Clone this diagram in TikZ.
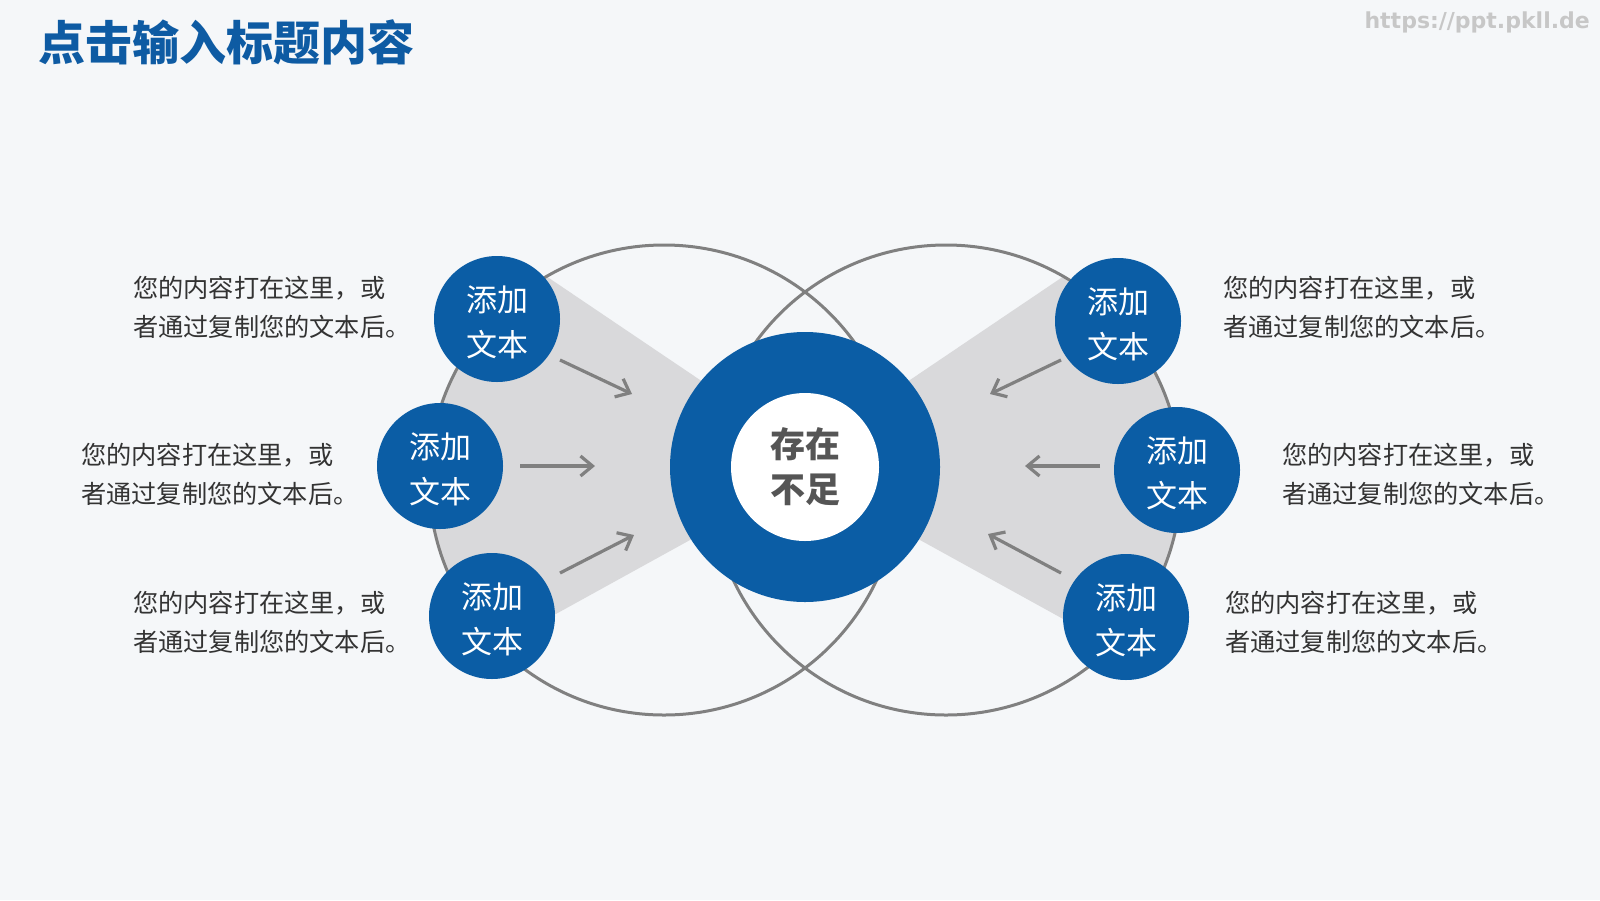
\documentclass[tikz,border=0pt]{standalone}
\usepackage{fontspec}
\newfontfamily\cjk{Noto Sans CJK SC}
\newfontfamily\wm{DejaVu Sans}
\usetikzlibrary{arrows.meta}
\definecolor{mainblue}{HTML}{0B5DA5}
\definecolor{titleblue}{HTML}{0E5BA3}
\definecolor{bgcol}{HTML}{F5F7F9}
\definecolor{wedge}{HTML}{D9D9DB}
\definecolor{outline}{HTML}{808080}
\definecolor{bodytext}{HTML}{333333}
\definecolor{coretext}{HTML}{555555}
\tikzset{
  bigring/.style={draw=outline, line width=3pt},
  badge/.style={circle, fill=mainblue, minimum size=126pt, inner sep=0pt,
    label={[yshift=-3pt, inner sep=0pt, text=white, align=center, font=\cjk\fontsize{31}{45}\selectfont]center:添加\\文本}},
  desc/.style={inner sep=0pt, align=left, text=bodytext, font=\cjk\fontsize{25.2}{39}\selectfont},
  arr/.style={draw=outline, line width=3.2pt, -{Straight Barb[length=12pt,width=20pt]}},
}
\begin{document}
\begin{tikzpicture}[x=1pt,y=-1pt]
\useasboundingbox (0,0) rectangle (1600,900);
\fill[bgcol] (0,0) rectangle (1600,900);

% gray wedges
\begin{scope}
  \clip (664,480) circle[radius=235pt];
  \fill[wedge] (826,465) -- (380,164) -- (380,711) -- cycle;
\end{scope}
\begin{scope}
  \clip (946,480) circle[radius=235pt];
  \fill[wedge] (784,465) -- (1230,164) -- (1230,711) -- cycle;
\end{scope}

% big outline circles
\draw[bigring] (664,480) circle[radius=235pt];
\draw[bigring] (946,480) circle[radius=235pt];

% arrows
\coordinate (a1s) at (560,360); \coordinate (a1e) at (632,394);
\coordinate (a2s) at (520,466); \coordinate (a2e) at (595,466);
\coordinate (a3s) at (560,573); \coordinate (a3e) at (634,535);
\coordinate (a4s) at (1061,360); \coordinate (a4e) at (990,394);
\coordinate (a5s) at (1100,466); \coordinate (a5e) at (1025,466);
\coordinate (a6s) at (1061,573); \coordinate (a6e) at (988,534);
\draw[arr] (a1s) -- (a1e);
\draw[arr] (a2s) -- (a2e);
\draw[arr] (a3s) -- (a3e);
\draw[arr] (a4s) -- (a4e);
\draw[arr] (a5s) -- (a5e);
\draw[arr] (a6s) -- (a6e);

% center
\node[circle, fill=mainblue, minimum size=270pt, inner sep=0pt] (ring) at (805,467) {};
\node[circle, fill=white, minimum size=148pt, inner sep=0pt, align=center, text=coretext,
  font=\cjk\bfseries\fontsize{35}{45}\selectfont] (core) at (805,467) {存在\\不足};

% badges
\node[badge] (lt) at (497,319) {};
\node[badge] (lm) at (440,466) {};
\node[badge] (lb) at (492,616) {};
\node[badge] (rt) at (1118,321) {};
\node[badge] (rm) at (1177,470) {};
\node[badge] (rb) at (1126,617) {};

% descriptions
\node[desc, anchor=west] (tlt) at (133,307) {您的内容打在这里，或\\者通过复制您的文本后。};
\node[desc, anchor=west] (tlm) at (81,474) {您的内容打在这里，或\\者通过复制您的文本后。};
\node[desc, anchor=west] (tlb) at (133,622) {您的内容打在这里，或\\者通过复制您的文本后。};
\node[desc, anchor=west] (trt) at (1223,307) {您的内容打在这里，或\\者通过复制您的文本后。};
\node[desc, anchor=west] (trm) at (1282,474) {您的内容打在这里，或\\者通过复制您的文本后。};
\node[desc, anchor=west] (trb) at (1225,622) {您的内容打在这里，或\\者通过复制您的文本后。};

% title and watermark
\node[anchor=west, inner sep=0pt, text=titleblue, font=\cjk\bfseries\fontsize{47}{50}\selectfont] (title) at (38,42) {点击输入标题内容};
\node[anchor=east, inner sep=0pt, text=black!22, font=\wm\bfseries\fontsize{22}{26}\selectfont] (mark) at (1590,22) {https://ppt.pkll.de};
\end{tikzpicture}
\end{document}
